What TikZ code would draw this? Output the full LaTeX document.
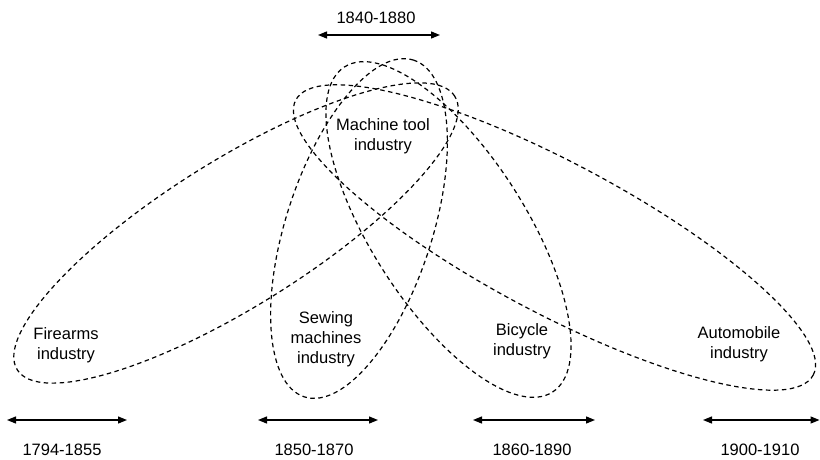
\documentclass[tikz,border=0pt]{standalone}
\usepackage{fontspec}
\setmainfont{Liberation Sans}
\usetikzlibrary{arrows.meta}

\begin{document}
\begin{tikzpicture}[x=1pt,y=-1pt,
  industry/.style={draw=black, line width=1.2pt, dash pattern=on 4.5pt off 3.5pt},
  label/.style={inner sep=0pt, align=center, font=\fontsize{16.5}{20}\selectfont},
  span/.style={line width=1.3pt, {Triangle[length=9pt,width=7pt]}-{Triangle[length=9pt,width=7pt]}}]

\useasboundingbox (0,0) rectangle (820,459);

% centres of the industry ellipses
\coordinate (firearms) at (236,233);
\coordinate (sewing)   at (359,228.5);
\coordinate (bicycle)  at (448.5,229.5);
\coordinate (auto)     at (554.5,237.5);

% dashed industry ellipses
\draw[industry, rotate around={32:(firearms)}] (firearms) ellipse [x radius=258pt, y radius=73pt];
\draw[industry, rotate around={72:(sewing)}]   (sewing)   ellipse [x radius=177pt, y radius=73pt];
\draw[industry, rotate around={-57.4:(bicycle)}] (bicycle) ellipse [x radius=193pt, y radius=77pt];
\draw[industry, rotate around={-28:(auto)}]    (auto)     ellipse [x radius=293pt, y radius=75pt];

% industry names
\node[label] (tfire)  at (66,345)    {Firearms\\industry};
\node[label] (tsew)   at (326,339)   {Sewing\\machines\\industry};
\node[label] (tbike)  at (522,341)   {Bicycle\\industry};
\node[label] (tauto)  at (739,344)   {Automobile\\industry};
\node[label] (ttool)  at (383,136)   {Machine tool\\industry};

% period spans
\coordinate (p0l) at (318,35);  \coordinate (p0r) at (440,35);
\coordinate (p1l) at (7,420);   \coordinate (p1r) at (127,420);
\coordinate (p2l) at (258,420); \coordinate (p2r) at (378,420);
\coordinate (p3l) at (473,420); \coordinate (p3r) at (595,420);
\coordinate (p4l) at (703,420); \coordinate (p4r) at (819.5,420);

\draw[span] (p0l) -- (p0r);
\draw[span] (p1l) -- (p1r);
\draw[span] (p2l) -- (p2r);
\draw[span] (p3l) -- (p3r);
\draw[span] (p4l) -- (p4r);

\node[label] (y0) at (376,18)  {1840-1880};
\node[label] (y1) at (62,450)  {1794-1855};
\node[label] (y2) at (314,450) {1850-1870};
\node[label] (y3) at (532,450) {1860-1890};
\node[label] (y4) at (760,450) {1900-1910};
\end{tikzpicture}
\end{document}
